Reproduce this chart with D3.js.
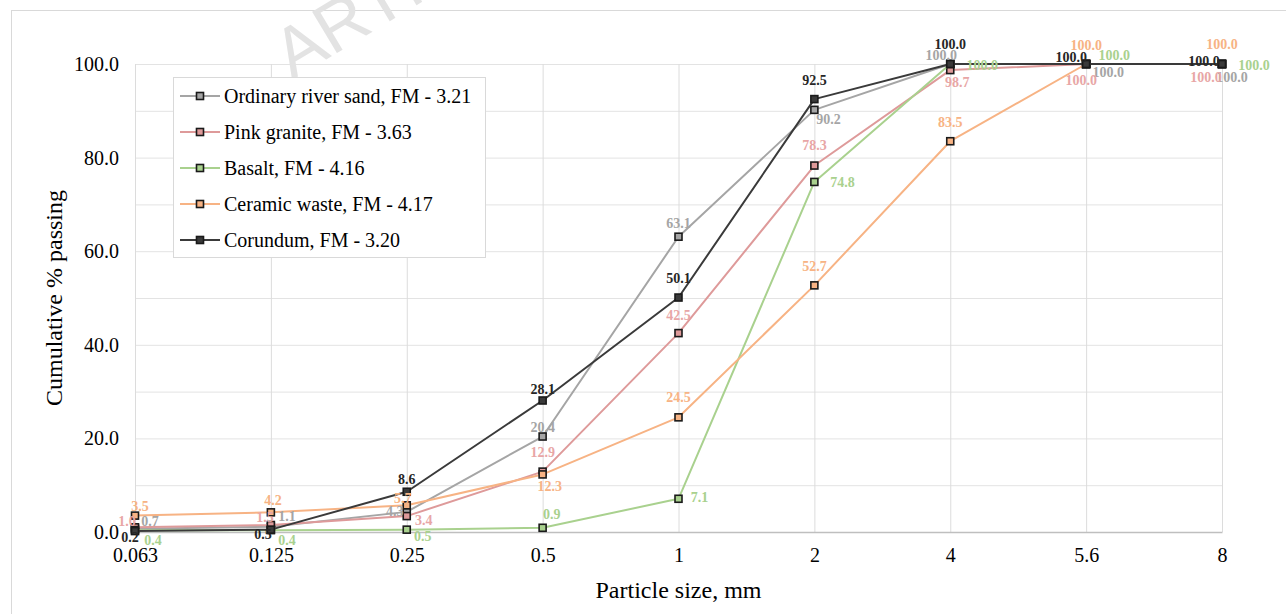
<!DOCTYPE html>
<html>
<head>
<meta charset="utf-8">
<script src="https://cdn.jsdelivr.net/npm/d3@7"></script>
<style>
  html, body { margin: 0; padding: 0; background: #fff; }
  svg { display: block; }
</style>
</head>
<body>
<svg id="chart" width="1286" height="614"></svg>
<script>
// ---------------- data ----------------
const categories = ["0.063", "0.125", "0.25", "0.5", "1", "2", "4", "5.6", "8"];
const yTicks = [0, 20, 40, 60, 80, 100];
const yGrid = [0, 10, 20, 30, 40, 50, 60, 70, 80, 90, 100];

const riverSand    = [0.7, 1.1, 4.3, 20.4, 63.1, 90.2, 100.0, 100.0, 100.0];
const pinkGranite  = [1.0, 1.5, 3.4, 12.9, 42.5, 78.3, 98.7, 100.0, 100.0];
const basalt       = [0.4, 0.4, 0.5, 0.9, 7.1, 74.8, 100.0, 100.0, 100.0];
const ceramicWaste = [3.5, 4.2, 5.7, 12.3, 24.5, 52.7, 83.5, 100.0, 100.0];
const corundum     = [0.2, 0.5, 8.6, 28.1, 50.1, 92.5, 100.0, 100.0, 100.0];

const seriesNames = [
  "Ordinary river sand, FM - 3.21",
  "Pink granite, FM - 3.63",
  "Basalt, FM - 4.16",
  "Ceramic waste, FM - 4.17",
  "Corundum, FM - 3.20"
];
const seriesValues = [riverSand, pinkGranite, basalt, ceramicWaste, corundum];

// ---------------- style ----------------
const lineColors  = ["#A5A5A5", "#DE9A9A", "#A9D18E", "#F7B384", "#3A3A3A"];
const labelColors = ["#A5A5A5", "#E8A6A6", "#A9D18E", "#F7B384", "#262626"];
// label offsets (dx, dy) per point, relative to the marker
const labelOffsets = [
  [[15,-7],[16,-10],[-12,0],[0,-9],[0,-13],[14,10],[-9,-9],[22,8],[10,13]],
  [[-8,-6],[-6,-7],[17,4],[0,-19],[0,-18],[0,-20],[7,12],[-5,16],[-16,13]],
  [[18,10],[16,10],[16,7],[9,-13],[21,-1],[28,1],[32,1],[28,-9],[32,1]],
  [[5,-9],[2,-12],[-4,-7],[7,12],[0,-20],[0,-19],[0,-19],[0,-19],[0,-20]],
  [[-5,6],[-8,5],[0,-12],[0,-11],[0,-19],[0,-19],[0,-20],[-15,-7],[-18,-3]]
];

const serif = "'Liberation Serif', 'Times New Roman', serif";
const svg = d3.select("#chart");

// outer chart border
svg.append("rect").attr("x", 11.5).attr("y", 10.5).attr("width", 1400).attr("height", 800)
  .attr("fill", "none").attr("stroke", "#D9D9D9").attr("stroke-width", 1);

// watermark
svg.append("text")
  .attr("transform", "translate(292,80) rotate(-31)")
  .attr("font-family", "'Liberation Sans', Arial, sans-serif")
  .attr("font-size", 70)
  .attr("fill", "#E3E3E3")
  .text("ARTICLE IN PRESS");

const plot = { left: 135, right: 1222, top: 64, bottom: 532 };

const x = d3.scalePoint().domain(categories).range([plot.left, plot.right]);
const y = d3.scaleLinear().domain([0, 100]).range([plot.bottom, plot.top]);

// gridlines
const g = svg.append("g");
g.selectAll(".hgrid").data(yGrid.filter(d => d > 0)).join("line")
  .attr("x1", plot.left).attr("x2", plot.right)
  .attr("y1", d => y(d) + 0.5).attr("y2", d => y(d) + 0.5)
  .attr("stroke", "#E3E3E3").attr("stroke-width", 1);
g.selectAll(".vgrid").data(categories).join("line")
  .attr("x1", d => x(d) + 0.5).attr("x2", d => x(d) + 0.5)
  .attr("y1", plot.top).attr("y2", plot.bottom)
  .attr("stroke", "#DCDCDC").attr("stroke-width", 1);

// x axis (baseline)
const xAxis = d3.axisBottom(x).tickSize(0).tickPadding(16);
const xg = svg.append("g").attr("transform", `translate(0,${plot.bottom})`).call(xAxis);
xg.select(".domain").attr("stroke", "#BFBFBF").attr("stroke-width", 1.3);
xg.selectAll("text").attr("font-family", serif).attr("font-size", 20).attr("fill", "#000");

// y axis
const yAxis = d3.axisLeft(y).tickValues(yTicks).tickSize(0).tickPadding(16).tickFormat(d3.format(".1f"));
const yg = svg.append("g").attr("transform", `translate(${plot.left},0)`).call(yAxis);
yg.select(".domain").remove();
yg.selectAll("text").attr("font-family", serif).attr("font-size", 20).attr("fill", "#000");

// axis titles
svg.append("text")
  .attr("x", (plot.left + plot.right) / 2).attr("y", 598)
  .attr("text-anchor", "middle")
  .attr("font-family", serif).attr("font-size", 24).attr("fill", "#000")
  .text("Particle size, mm");
svg.append("text")
  .attr("transform", "translate(62,298) rotate(-90)")
  .attr("text-anchor", "middle")
  .attr("font-family", serif).attr("font-size", 24).attr("fill", "#000")
  .text("Cumulative % passing");

// series
const line = d3.line().x((d, i) => x(categories[i])).y(d => y(d));
const ms = 7;
seriesValues.forEach((vals, s) => {
  const sg = svg.append("g");
  sg.append("path").datum(vals)
    .attr("d", line).attr("fill", "none")
    .attr("stroke", lineColors[s]).attr("stroke-width", 2)
    .attr("stroke-linejoin", "round");
  sg.selectAll("rect").data(vals).join("rect")
    .attr("x", (d, i) => x(categories[i]) - ms / 2)
    .attr("y", d => y(d) - ms / 2)
    .attr("width", ms).attr("height", ms)
    .attr("fill", lineColors[s])
    .attr("stroke", "#1A1A1A").attr("stroke-width", 1.6);
});

// data labels
seriesValues.forEach((vals, s) => {
  svg.append("g").selectAll("text").data(vals).join("text")
    .attr("x", (d, i) => x(categories[i]) + labelOffsets[s][i][0])
    .attr("y", (d, i) => y(d) + labelOffsets[s][i][1])
    .attr("text-anchor", "middle")
    .attr("dominant-baseline", "central")
    .attr("font-family", serif).attr("font-size", 14).attr("font-weight", "bold")
    .attr("fill", labelColors[s])
    .text(d => d.toFixed(1));
});

// legend
const lg = svg.append("g");
lg.append("rect").attr("x", 173.5).attr("y", 77.5).attr("width", 312).attr("height", 180)
  .attr("fill", "#fff").attr("stroke", "#D9D9D9").attr("stroke-width", 1);
seriesNames.forEach((name, s) => {
  const cy = 96 + s * 36;
  lg.append("line").attr("x1", 180).attr("x2", 220).attr("y1", cy).attr("y2", cy)
    .attr("stroke", lineColors[s]).attr("stroke-width", 2);
  lg.append("rect").attr("x", 200 - ms / 2).attr("y", cy - ms / 2).attr("width", ms).attr("height", ms)
    .attr("fill", lineColors[s]).attr("stroke", "#1A1A1A").attr("stroke-width", 1.6);
  lg.append("text").attr("x", 224).attr("y", cy).attr("dominant-baseline", "central")
    .attr("font-family", serif).attr("font-size", 20).attr("fill", "#000")
    .text(name);
});
</script>
</body>
</html>
